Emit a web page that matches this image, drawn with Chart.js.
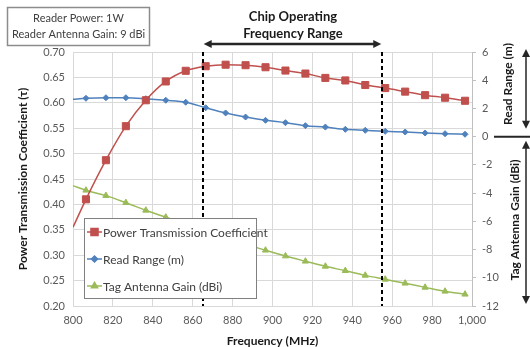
<!DOCTYPE html>
<html>
<head>
<meta charset="utf-8">
<script src="https://cdn.jsdelivr.net/npm/chart.js@4.4.0/dist/chart.umd.min.js"></script>
<style>
  html, body { margin: 0; padding: 0; background: #fff; }
  #wrap { position: relative; width: 530px; height: 347px; }
</style>
</head>
<body>
<div id="wrap"><canvas id="chart" width="530" height="347"></canvas></div>
<script>
// values (first entry sits on the 800 MHz edge, no marker)
const freqs = [800, 806.5, 816.5, 826.5, 836.5, 846.5, 856.5, 866.5, 876.5, 886.5, 896.5,
  906.5, 916.5, 926.5, 936.5, 946.5, 956.5, 966.5, 976.5, 986.5, 996.5];
const powerCoeff = [0.355, 0.41, 0.487, 0.554, 0.605, 0.642, 0.663, 0.672, 0.675, 0.674, 0.670,
  0.6635, 0.6576, 0.649, 0.644, 0.635, 0.629, 0.622, 0.615, 0.610, 0.604];
const readRange = [2.65, 2.72, 2.76, 2.76, 2.69, 2.58, 2.44, 2.05, 1.68, 1.39, 1.16,
  0.99, 0.78, 0.68, 0.52, 0.45, 0.38, 0.33, 0.26, 0.21, 0.17];
const tagGain = [-3.48, -3.80, -4.18, -4.68, -5.22, -5.71, -6.20, -6.68, -7.14, -7.60, -8.05,
  -8.46, -8.83, -9.19, -9.50, -9.83, -10.11, -10.39, -10.68, -10.96, -11.17];

const bandEdges = [865, 955];
const seriesNames = ['Power Transmission Coefficient', 'Read Range (m)', 'Tag Antenna Gain (dBi)'];
const infoLines = ['Reader Power: 1W', 'Reader Antenna Gain: 9 dBi'];
const titleLines = ['Chip Operating', 'Frequency Range'];
const rightTitles = ['Read Range (m)', 'Tag Antenna Gain (dBi)'];

const FONT = 'Lato, "Open Sans", sans-serif';
const RED = '#C0504D', BLUE = '#4F81BD', GREEN = '#9BBB59';
const GRID = '#d9d9d9', TICK = '#595959', DARK = '#404040';

const pts = arr => arr.map((v, i) => ({ x: freqs[i], y: v }));
const hideFirst = r => ctx => ctx.dataIndex === 0 ? 0 : r;

const styles = [
  { color: RED, shape: 'rect', r: 5 },
  { color: BLUE, shape: 'rectRot', r: 3 },
  { color: GREEN, shape: 'triangle', r: 3.6 }
];

function arrowHead(ctx, x, y, dx, dy) {
  // filled head with its tip at (x, y), pointing along (dx, dy)
  const len = 8, half = 4;
  ctx.beginPath();
  ctx.moveTo(x, y);
  ctx.lineTo(x - dx * len - dy * half, y - dy * len + dx * half);
  ctx.lineTo(x - dx * len + dy * half, y - dy * len - dx * half);
  ctx.closePath();
  ctx.fill();
}

const decorations = {
  id: 'decorations',
  afterDatasetsDraw(chart) {
    const { ctx, chartArea: area, scales } = chart;
    const xs = scales.x, y2 = scales.y2;
    ctx.save();

    // operating band edges
    ctx.strokeStyle = '#000';
    ctx.lineWidth = 2;
    ctx.setLineDash([4, 3]);
    bandEdges.forEach(f => {
      const px = Math.round(xs.getPixelForValue(f));
      ctx.beginPath();
      ctx.moveTo(px, area.top);
      ctx.lineTo(px, area.bottom);
      ctx.stroke();
    });
    ctx.setLineDash([]);

    // legend box
    const lx = 84, ly = 218, lw = 172, lh = 80;
    ctx.fillStyle = '#fff';
    ctx.fillRect(lx, ly, lw, lh);
    ctx.strokeStyle = '#808080';
    ctx.lineWidth = 1;
    ctx.strokeRect(lx + 0.5, ly + 0.5, lw, lh);
    ctx.font = '12px ' + FONT;
    ctx.textBaseline = 'middle';
    ctx.textAlign = 'left';
    seriesNames.forEach((name, i) => {
      const ry = ly + 14 + i * 27;
      const st = styles[i];
      ctx.strokeStyle = st.color;
      ctx.lineWidth = 1.5;
      ctx.beginPath();
      ctx.moveTo(lx + 3, ry);
      ctx.lineTo(lx + 18, ry);
      ctx.stroke();
      ctx.fillStyle = st.color;
      Chart.helpers.drawPoint(ctx, { pointStyle: st.shape, radius: st.r, borderWidth: 1 }, lx + 10.5, ry);
      ctx.fill();
      ctx.fillStyle = DARK;
      ctx.fillText(name, lx + 19, ry + 1);
    });

    // reader info box
    ctx.strokeStyle = '#8c8c8c';
    ctx.strokeRect(7.5, 7.5, 142, 38);
    ctx.fillStyle = DARK;
    ctx.font = '11px ' + FONT;
    ctx.textAlign = 'center';
    infoLines.forEach((t, i) => ctx.fillText(t, 78.5, 18 + i * 16));

    // title and band arrow
    const x0 = xs.getPixelForValue(bandEdges[0]), x1 = xs.getPixelForValue(bandEdges[1]);
    ctx.fillStyle = '#1a1a1a';
    ctx.font = 'bold 13px ' + FONT;
    titleLines.forEach((t, i) => ctx.fillText(t, 293, 17 + i * 17));
    ctx.strokeStyle = '#262626';
    ctx.fillStyle = '#262626';
    ctx.lineWidth = 2.5;
    ctx.beginPath();
    ctx.moveTo(x0 + 6, 44);
    ctx.lineTo(x1 - 6, 44);
    ctx.stroke();
    arrowHead(ctx, x0 + 1, 44, -1, 0);
    arrowHead(ctx, x1 - 1, 44, 1, 0);

    // right-hand axis captions with their arrows
    const zero = y2.getPixelForValue(0);
    const topY = y2.getPixelForValue(6), botY = y2.getPixelForValue(-12);
    ctx.lineWidth = 2;
    ctx.beginPath();
    ctx.moveTo(494, zero);
    ctx.lineTo(530, zero);
    ctx.stroke();
    ctx.lineWidth = 1.5;
    const ax = 526;
    ctx.beginPath();
    ctx.moveTo(ax, topY + 2);
    ctx.lineTo(ax, zero - 11);
    ctx.moveTo(ax, zero + 7);
    ctx.lineTo(ax, botY - 5);
    ctx.stroke();
    arrowHead(ctx, ax, topY - 3, 0, -1);
    arrowHead(ctx, ax, zero - 8, 0, 1);
    arrowHead(ctx, ax, zero + 4, 0, -1);
    arrowHead(ctx, ax, botY - 2, 0, 1);

    ctx.fillStyle = '#1a1a1a';
    ctx.font = 'bold 12px ' + FONT;
    ctx.textAlign = 'center';
    [[rightTitles[0], 508, 84], [rightTitles[1], 515, 220]].forEach(([t, x, y]) => {
      ctx.save();
      ctx.translate(x, y);
      ctx.rotate(-Math.PI / 2);
      ctx.fillText(t, 0, 0);
      ctx.restore();
    });
    ctx.restore();
  }
};

new Chart(document.getElementById('chart'), {
  type: 'line',
  data: {
    datasets: [
      { label: seriesNames[0], data: pts(powerCoeff), yAxisID: 'y' },
      { label: seriesNames[1], data: pts(readRange), yAxisID: 'y2' },
      { label: seriesNames[2], data: pts(tagGain), yAxisID: 'y2' }
    ].map((ds, i) => Object.assign(ds, {
      borderColor: styles[i].color,
      backgroundColor: styles[i].color,
      pointBackgroundColor: styles[i].color,
      pointBorderColor: styles[i].color,
      pointStyle: styles[i].shape,
      pointRadius: hideFirst(styles[i].r),
      pointBorderWidth: 1,
      borderWidth: 1.5,
      cubicInterpolationMode: 'monotone',
      fill: false,
      clip: 0
    }))
  },
  options: {
    responsive: false,
    devicePixelRatio: 1,
    animation: false,
    layout: { padding: { top: 52, left: 0, right: 0, bottom: 0 } },
    plugins: { legend: { display: false }, tooltip: { enabled: false } },
    scales: {
      x: {
        type: 'linear', min: 800, max: 1000,
        afterFit: s => { s.height = 41; },
        grid: { color: GRID, drawTicks: false },
        border: { color: GRID },
        ticks: { stepSize: 20, padding: 8, color: TICK, font: { family: FONT, size: 11 } },
        title: { display: true, text: 'Frequency (MHz)', color: '#1a1a1a',
          font: { family: FONT, size: 12, weight: 'bold', lineHeight: 1 }, padding: 0 }
      },
      y: {
        position: 'left', min: 0.2, max: 0.7,
        afterFit: s => { s.width = 73; },
        grid: { color: GRID, drawTicks: false },
        border: { color: GRID },
        ticks: { stepSize: 0.05, padding: 8, color: TICK, font: { family: FONT, size: 11 },
          callback: v => v.toFixed(2) },
        title: { display: true, text: 'Power Transmission Coefficient (τ)', color: '#1a1a1a',
          font: { family: FONT, size: 12, weight: 'bold', lineHeight: 1 }, padding: { top: 17, bottom: 0 } }
      },
      y2: {
        position: 'right', min: -12, max: 6,
        afterFit: s => { s.width = 58; },
        grid: { drawOnChartArea: false, color: '#bfbfbf', tickLength: 4 },
        border: { color: '#bfbfbf' },
        ticks: { stepSize: 2, padding: 6, color: TICK, font: { family: FONT, size: 11 } }
      }
    }
  },
  plugins: [decorations]
});
</script>
</body>
</html>
